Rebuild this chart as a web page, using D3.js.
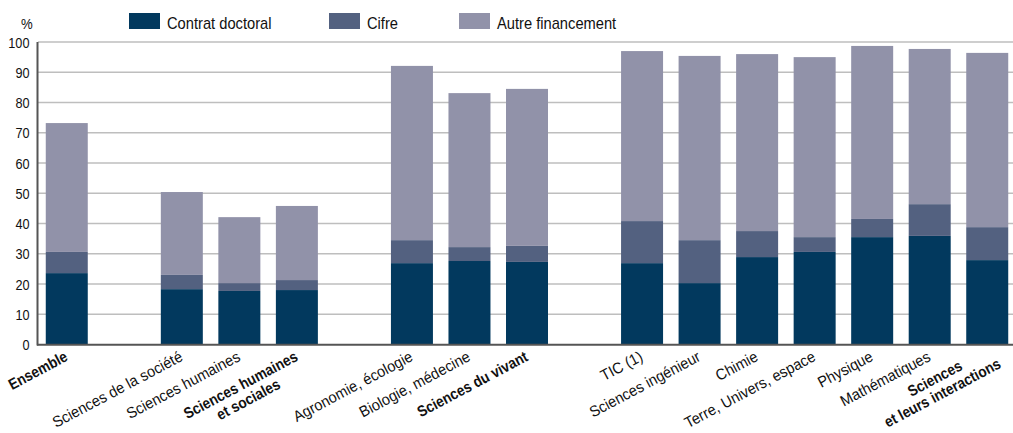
<!DOCTYPE html>
<html><head><meta charset="utf-8">
<script src="https://cdn.jsdelivr.net/npm/d3@7"></script>
<style>
body{margin:0;background:#fff;}
svg{display:block;font-family:"Liberation Sans",Arial,sans-serif;}
</style></head><body>
<svg id="c" width="1013" height="433"></svg>
<script>
// Categories (blank entries are gaps between groups)
const categories = ["Ensemble","gap1","Sciences de la société","Sciences humaines","Sciences humaines|et sociales","gap2","Agronomie, écologie","Biologie, médecine","Sciences du vivant","gap3","TIC (1)","Sciences ingénieur","Chimie","Terre, Univers, espace","Physique","Mathématiques","Sciences|et leurs interactions"];
const boldCats = ["Ensemble","Sciences humaines|et sociales","Sciences du vivant","Sciences|et leurs interactions"];
// Series values (%), null for gaps
const contratDoctoral = [23.6,null,18.3,17.7,18.0,null,26.9,27.6,27.3,null,26.9,20.3,28.9,30.6,35.5,35.9,27.9];
const cifre           = [7.0,null,4.7,2.6,3.3,null,7.6,4.6,5.3,null,13.9,14.2,8.6,4.9,6.0,10.5,10.9];
const autreFinancement= [42.6,null,27.4,21.8,24.5,null,57.6,50.9,51.9,null,56.2,60.9,58.5,59.5,57.2,51.3,57.6];
const seriesNames = ["Contrat doctoral","Cifre","Autre financement"];
const yTicks = [0,10,20,30,40,50,60,70,80,90,100];

const colors = ["#02395e","#536180","#9192a9"];
const svg = d3.select("#c");
const x = d3.scaleBand().domain(categories).range([38,1016]).paddingInner(0.27).paddingOuter(0.135);
const y = d3.scaleLinear().domain([0,100]).range([344.5,42]);

// condensed text helper
function ctext(parent, tx, ty, rot, sx, str, size, opts={}){
  const g = parent.append("g").attr("transform",`translate(${tx},${ty}) rotate(${rot}) scale(${sx},1)`);
  const t = g.append("text").attr("font-size",size).attr("fill","#111")
    .attr("font-weight",opts.bold?"bold":"normal").attr("text-anchor",opts.anchor||"start");
  if(opts.dy) t.attr("dy",opts.dy);
  t.text(str);
  return g;
}

// grid
svg.append("g").selectAll("line").data(yTicks.filter(d=>d>0)).join("line")
  .attr("x1",38).attr("x2",1013).attr("y1",d=>y(d)).attr("y2",d=>y(d))
  .attr("stroke","#bebebe").attr("stroke-width",1.6);

// stacked bars
const rows = categories.map((c,i)=>({cat:c,a:contratDoctoral[i],b:cifre[i],c:autreFinancement[i]}))
  .filter(r=>r.a!==null);
const stack = d3.stack().keys(["a","b","c"])(rows);
svg.append("g").selectAll("g").data(stack).join("g").attr("fill",(d,i)=>colors[i])
  .selectAll("rect").data(d=>d).join("rect")
  .attr("x",d=>x(d.data.cat)).attr("width",x.bandwidth())
  .attr("y",d=>y(d[1])).attr("height",d=>y(d[0])-y(d[1]));

// axis lines
svg.append("line").attr("x1",37.5).attr("x2",37.5).attr("y1",42).attr("y2",345.5).attr("stroke","#555").attr("stroke-width",2);
svg.append("line").attr("x1",37).attr("x2",1013).attr("y1",344.8).attr("y2",344.8).attr("stroke","#555").attr("stroke-width",2);

// y tick labels
const ya = svg.append("g");
yTicks.forEach(v=>ctext(ya, 29.5, y(v), 0, 0.82, String(v), 15.5, {anchor:"end", dy:"0.36em"}));
ctext(svg, 21, 28.5, 0, 0.85, "%", 15.5);

// legend
const legX = [129,329,459];
seriesNames.forEach((n,i)=>{
  svg.append("rect").attr("x",legX[i]).attr("y",13).attr("width",31).attr("height",16).attr("fill",colors[i]);
  ctext(svg, legX[i]+38, 28.5, 0, 0.93, n, 15.8);
});

// x labels
const ANG = -28;
const nudge = {"Sciences|et leurs interactions": [8,-4]};
const lab = svg.append("g");
categories.forEach(c=>{
  if(c.startsWith("gap")) return;
  const bold = boldCats.includes(c);
  const lines = c.split("|");
  const cx = x(c)+x.bandwidth()/2 + 2;
  const [nx,ny] = nudge[c]||[0,0];
  const g = lab.append("g").attr("transform",`translate(${cx},${360}) rotate(${ANG}) translate(${nx},${ny}) scale(${bold?0.88:0.94},1)`);
  const t = g.append("text").attr("font-size",15.5).attr("fill","#111")
    .attr("font-weight",bold?"bold":"normal");
  const spans = lines.map((l,i)=>t.append("tspan").attr("dy",i===0?0:"1.05em").text(l));
  if(lines.length===1){
    t.attr("text-anchor","end"); spans[0].attr("x",0);
  } else {
    const w = d3.max(spans.map(s=>s.node().getComputedTextLength()));
    t.attr("text-anchor","middle"); spans.forEach(s=>s.attr("x",-w/2));
  }
});
</script>
</body></html>
